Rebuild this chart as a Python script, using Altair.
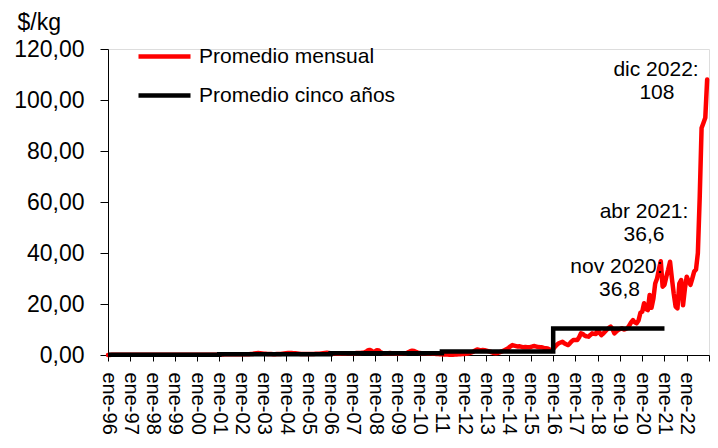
import altair as alt
import pandas as pd

# ---- Promedio mensual ($/kg), enero a diciembre de cada año ----
r1996 = [0.04, 0.04, 0.05, 0.05, 0.05, 0.05, 0.05, 0.06, 0.06, 0.05, 0.05, 0.05]
r1997 = [0.05, 0.05, 0.05, 0.06, 0.06, 0.06, 0.06, 0.06, 0.07, 0.07, 0.07, 0.07]
r1998 = [0.07, 0.07, 0.06, 0.06, 0.06, 0.06, 0.05, 0.05, 0.05, 0.05, 0.05, 0.05]
r1999 = [0.05, 0.05, 0.05, 0.05, 0.05, 0.05, 0.06, 0.06, 0.06, 0.06, 0.07, 0.07]
r2000 = [0.07, 0.07, 0.08, 0.08, 0.08, 0.09, 0.09, 0.10, 0.10, 0.12, 0.14, 0.16]
r2001 = [0.20, 0.22, 0.24, 0.25, 0.25, 0.26, 0.27, 0.27, 0.28, 0.28, 0.28, 0.27]
r2002 = [0.25, 0.25, 0.30, 0.30, 0.30, 0.35, 0.40, 0.60, 0.70, 0.75, 0.70, 0.60]
r2003 = [0.50, 0.45, 0.40, 0.35, 0.35, 0.30, 0.30, 0.35, 0.35, 0.40, 0.50, 0.60]
r2004 = [0.70, 0.75, 0.80, 0.75, 0.70, 0.70, 0.60, 0.50, 0.40, 0.40, 0.35, 0.35]
r2005 = [0.35, 0.35, 0.40, 0.40, 0.45, 0.50, 0.50, 0.60, 0.70, 0.80, 0.85, 0.80]
r2006 = [0.70, 0.60, 0.55, 0.50, 0.50, 0.50, 0.55, 0.60, 0.60, 0.65, 0.70, 0.70]
r2007 = [0.70, 0.70, 0.75, 0.80, 0.80, 0.85, 0.90, 1.20, 1.80, 2.00, 1.70, 1.10]
r2008 = [1.40, 1.90, 1.80, 1.00, 0.80, 0.70, 0.70, 0.70, 0.75, 0.70, 0.65, 0.60]
r2009 = [0.60, 0.60, 0.60, 0.65, 0.70, 0.80, 1.10, 1.50, 1.70, 1.60, 1.20, 0.90]
r2010 = [0.80, 0.70, 0.70, 0.65, 0.60, 0.60, 0.55, 0.50, 0.45, 0.40, 0.35, 0.30]
r2011 = [0.30, 0.20, 0.20, 0.15, 0.10, 0.10, 0.10, 0.15, 0.20, 0.25, 0.30, 0.35]
r2012 = [0.40, 0.50, 0.60, 0.80, 1.00, 1.30, 1.80, 2.20, 2.00, 1.80, 2.00, 1.90]
r2013 = [1.70, 1.50, 1.30, 1.00, 0.80, 0.70, 0.80, 1.00, 1.30, 1.60, 2.00, 2.40]
r2014 = [2.80, 3.40, 3.90, 3.70, 3.50, 3.30, 3.40, 3.20, 3.00, 3.10, 3.00, 3.00]
r2015 = [3.20, 3.40, 3.50, 3.30, 3.10, 3.00, 3.00, 2.80, 2.70, 2.60, 2.20, 1.70]
r2016 = [2.40, 3.20, 4.00, 4.60, 4.90, 5.20, 4.60, 4.20, 3.90, 4.60, 5.40, 5.90]
r2017 = [5.90, 5.90, 7.00, 8.50, 8.20, 7.60, 7.30, 7.20, 7.80, 8.50, 8.30, 8.20]
r2018 = [9.80, 8.80, 7.80, 8.40, 9.20, 10.00, 10.60, 11.10, 10.20, 8.50, 9.20, 9.80]
r2019 = [10.20, 10.50, 10.00, 10.20, 10.50, 11.50, 12.80, 13.70, 12.80, 12.40, 13.50, 16.50]
r2020 = [17.00, 20.30, 18.00, 17.60, 23.50, 18.50, 22.00, 28.00, 30.00, 33.50, 36.80, 26.80]
r2021 = [27.50, 30.70, 33.50, 36.60, 30.00, 24.00, 19.00, 18.30, 28.00, 29.40, 19.50, 26.00]
r2022 = [30.70, 29.00, 27.50, 30.00, 32.70, 33.50, 40.00, 62.00, 89.00, 91.00, 93.00, 108.00]

mensual = (r1996 + r1997 + r1998 + r1999 + r2000 + r2001 + r2002 + r2003 + r2004
           + r2005 + r2006 + r2007 + r2008 + r2009 + r2010 + r2011 + r2012 + r2013
           + r2014 + r2015 + r2016 + r2017 + r2018 + r2019 + r2020 + r2021 + r2022)

# ---- Promedio cinco años (inicio de cada quinquenio) ----
cinco_inicio = [1996, 2001, 2006, 2011, 2016, 2021]
cinco_valor = [0.05, 0.30, 0.70, 1.40, 10.40, 10.40]

# ---- Anotaciones ----
anot_texto = ["dic 2022:", "108", "abr 2021:", "36,6", "nov 2020:", "36,8"]
anot_x = [2020.62, 2020.66, 2020.08, 2020.08, 2018.84, 2018.98]
anot_y = [111.8, 102.7, 56.1, 47.1, 34.5, 25.5]

# ---- Ejes ----
anios_ticks = list(range(1996, 2024))
y_ticks = [0, 20, 40, 60, 80, 100, 120]

series = ["Promedio mensual", "Promedio cinco años"]
FONT = "Liberation Sans"

df_m = pd.DataFrame({
    "t": [1996 + i / 12 for i in range(len(mensual))],
    "v": mensual,
    "serie": series[0],
})
df_c = pd.DataFrame({"t": cinco_inicio, "v": cinco_valor, "serie": series[1]})
df_a = pd.DataFrame({"t": anot_x, "v": anot_y, "txt": anot_texto})

x_enc = alt.X(
    "t:Q",
    scale=alt.Scale(domain=[1996, 2023], nice=False, zero=False),
    axis=alt.Axis(
        title=None, values=anios_ticks, tickCount=60, grid=False,
        labelExpr="datum.value < 2023 ? 'ene-' + substring(format(datum.value, 'd'), 2, 4) : ''",
        labelAngle=90, labelFontSize=20, labelFont=FONT, labelColor="black",
        labelPadding=11, tickSize=6, tickColor="black", domainColor="black",
        labelOverlap=False, labelFlush=False,
    ),
)
y_enc = alt.Y(
    "v:Q",
    scale=alt.Scale(domain=[0, 120], nice=False),
    axis=alt.Axis(
        title="$/kg", titleAngle=0, titleAlign="left", titleBaseline="middle",
        titleX=-91, titleY=-27, titleFontSize=23, titleFont=FONT,
        titleFontWeight="normal", titleColor="black",
        values=y_ticks, tickCount=20, grid=False,
        labelExpr="replace(format(datum.value, '.2f'), '.', ',')",
        labelFontSize=23, labelFont=FONT, labelColor="black",
        labelPadding=16, tickSize=8, tickColor="black", domainColor="black",
    ),
)
color_enc = alt.Color(
    "serie:N",
    scale=alt.Scale(domain=series, range=["#ff0000", "#000000"]),
    legend=alt.Legend(
        orient="none", legendX=28, legendY=-21, title=None,
        symbolType="stroke", symbolSize=2704, symbolStrokeWidth=4.5,
        labelFontSize=21, labelFont=FONT, labelColor="black", labelLimit=0,
        labelOffset=6, rowPadding=-17, padding=0,
    ),
)

red = alt.Chart(df_m).mark_line(strokeWidth=4.5, strokeJoin="round", strokeCap="round").encode(
    x=x_enc, y=y_enc, color=color_enc
)
black = alt.Chart(df_c).mark_line(strokeWidth=4.5, interpolate="step-after", strokeCap="butt").encode(
    x=x_enc, y=y_enc, color=color_enc
)
text = alt.Chart(df_a).mark_text(
    font=FONT, fontSize=21, align="center", baseline="middle", color="black"
).encode(x="t:Q", y="v:Q", text="txt:N")

chart = (
    alt.layer(red, black, text)
    .properties(
        width=601, height=306,
        autosize=alt.AutoSizeParams(type="none"),
        padding={"left": 100, "top": 41, "right": 1, "bottom": 81},
    )
    .configure_view(stroke=None)
    .configure(font=FONT)
)

chart.save("out.html", embed_options={"renderer": "svg", "actions": False})
